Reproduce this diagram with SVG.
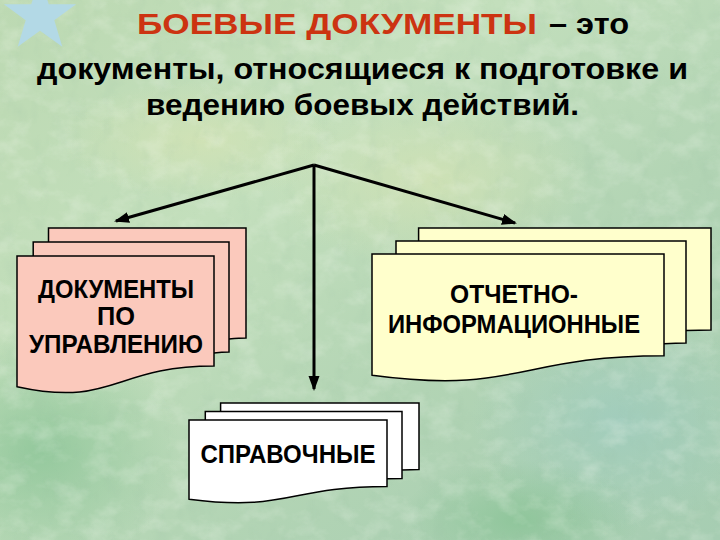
<svg xmlns="http://www.w3.org/2000/svg" width="720" height="540" viewBox="0 0 720 540">
<defs>
<linearGradient id="bg" x1="0" y1="0" x2="1" y2="1">
<stop offset="0" stop-color="#bcd9b2"/>
<stop offset="0.35" stop-color="#c3dfbc"/>
<stop offset="0.65" stop-color="#b2d4b4"/>
<stop offset="1" stop-color="#a6cdb2"/>
</linearGradient>
<radialGradient id="blotG" cx="0.5" cy="0.5" r="0.5">
<stop offset="0" stop-color="#86c293" stop-opacity="0.75"/>
<stop offset="1" stop-color="#86c293" stop-opacity="0"/>
</radialGradient>
<radialGradient id="blotB" cx="0.5" cy="0.5" r="0.5">
<stop offset="0" stop-color="#9dcbc0" stop-opacity="0.7"/>
<stop offset="1" stop-color="#9dcbc0" stop-opacity="0"/>
</radialGradient>
<radialGradient id="blotY" cx="0.5" cy="0.5" r="0.5">
<stop offset="0" stop-color="#d6e4b4" stop-opacity="0.7"/>
<stop offset="1" stop-color="#d6e4b4" stop-opacity="0"/>
</radialGradient>
<filter id="tex" x="0" y="0" width="100%" height="100%">
<feTurbulence type="fractalNoise" baseFrequency="0.035 0.05" numOctaves="4" seed="7"/>
<feColorMatrix type="matrix" values="0 0 0 0 1  0 0 0 0 1  0 0 0 0 0.95  1.1 0 0 0 -0.5"/>
</filter>
<filter id="tex2" x="0" y="0" width="100%" height="100%">
<feTurbulence type="fractalNoise" baseFrequency="0.06 0.04" numOctaves="3" seed="19"/>
<feColorMatrix type="matrix" values="0 0 0 0 0.3  0 0 0 0 0.5  0 0 0 0 0.35  0.9 0 0 0 -0.45"/>
</filter>
<marker id="arr" markerUnits="userSpaceOnUse" markerWidth="16" markerHeight="12" refX="13" refY="5.5" orient="auto">
<path d="M0,0 L15,5.5 L0,11 Z" fill="#000"/>
</marker>
<style>
.sheet{stroke:#000;stroke-width:1.5;stroke-linejoin:miter}
.pink{fill:#fbc9bc}
.yellow{fill:#ffffcc}
.white{fill:#ffffff}
.lbl{font-family:"Liberation Sans",Arial,sans-serif;font-weight:bold;font-size:25px;fill:#000;text-anchor:middle}
.head{font-family:"Liberation Sans",Arial,sans-serif;font-weight:bold;font-size:30px;fill:#000}
.conn{stroke:#000;stroke-width:3;fill:none}
</style>
</defs>

<rect width="720" height="540" fill="url(#bg)"/>
<ellipse cx="40" cy="450" rx="140" ry="120" fill="url(#blotG)"/>
<ellipse cx="620" cy="420" rx="150" ry="110" fill="url(#blotB)"/>
<ellipse cx="430" cy="180" rx="160" ry="90" fill="url(#blotY)"/>
<ellipse cx="200" cy="140" rx="140" ry="60" fill="url(#blotY)"/>
<ellipse cx="520" cy="520" rx="120" ry="60" fill="url(#blotG)"/>
<rect width="720" height="540" filter="url(#tex)" opacity="0.5"/>
<rect width="720" height="540" filter="url(#tex2)" opacity="0.35"/>

<g id="star">
<polygon points="40,-22 48.8,4.3 76.1,4.3 54.3,20.2 62.3,46.7 40,30.8 17.7,46.7 25.7,20.2 3.9,4.3 31.2,4.3" fill="#b3d9e6"/>
</g>

<g id="title">
<text class="head" x="137" y="34" font-size="29" style="fill:#cc3311" textLength="400" lengthAdjust="spacingAndGlyphs">БОЕВЫЕ ДОКУМЕНТЫ</text>
<text class="head" x="549" y="34" font-size="29" textLength="80" lengthAdjust="spacingAndGlyphs">– это</text>
<text class="head" x="37" y="79" textLength="651" lengthAdjust="spacingAndGlyphs">документы, относящиеся к подготовке и</text>
<text class="head" x="146" y="115" textLength="433" lengthAdjust="spacingAndGlyphs">ведению боевых действий.</text>
</g>

<g id="connectors">
<line class="conn" x1="314" y1="165" x2="116" y2="221" marker-end="url(#arr)"/>
<line class="conn" x1="314" y1="165" x2="515" y2="223" marker-end="url(#arr)"/>
<line class="conn" x1="314" y1="165" x2="314" y2="389" marker-end="url(#arr)"/>
</g>

<g id="node-upravlenie">
<path class="sheet pink" d="M48.5,256 L48.5,228 L246,228 L246,338 C240,338 229,339 229,339"/>
<path class="sheet pink" d="M33.2,256 L33.2,241.9 L229,241.9 L229,352 C222,352 214,353 214,353"/>
<path class="sheet pink" d="M17,256 L214,256 L214,366 C113.6,366 113.6,407.8 17,386.7 Z"/>
<text class="lbl" x="116" y="298" textLength="156" lengthAdjust="spacingAndGlyphs">ДОКУМЕНТЫ</text>
<text class="lbl" x="116" y="325" textLength="38" lengthAdjust="spacingAndGlyphs">ПО</text>
<text class="lbl" x="116" y="353" textLength="174" lengthAdjust="spacingAndGlyphs">УПРАВЛЕНИЮ</text>
</g>

<g id="node-otchetno">
<path class="sheet yellow" d="M418.6,240.9 L418.6,228 L711,228 L711,330 C700,330 686,330.5 686,330.5"/>
<path class="sheet yellow" d="M396,254 L396,240.9 L686,240.9 L686,343 C676,343 664,343.8 664,343.8"/>
<path class="sheet yellow" d="M372,254 L664,254 L664,355.7 C518,355.7 518,394.8 372,375.2 Z"/>
<text class="lbl" x="514" y="303" textLength="128" lengthAdjust="spacingAndGlyphs">ОТЧЕТНО-</text>
<text class="lbl" x="514" y="333" textLength="252" lengthAdjust="spacingAndGlyphs">ИНФОРМАЦИОННЫЕ</text>
</g>

<g id="node-spravochnye">
<path class="sheet white" d="M220.6,411.4 L220.6,403 L419,403 L419,469.6 C410,469.6 402,470 402,470"/>
<path class="sheet white" d="M205.3,420 L205.3,411.4 L402,411.4 L402,478.4 C394,478.4 387,478.8 387,478.8"/>
<path class="sheet white" d="M189,420 L387,420 L387,486.4 C288,486.4 288,512 189,499.2 Z"/>
<text class="lbl" x="288" y="463" textLength="175" lengthAdjust="spacingAndGlyphs">СПРАВОЧНЫЕ</text>
</g>
</svg>
